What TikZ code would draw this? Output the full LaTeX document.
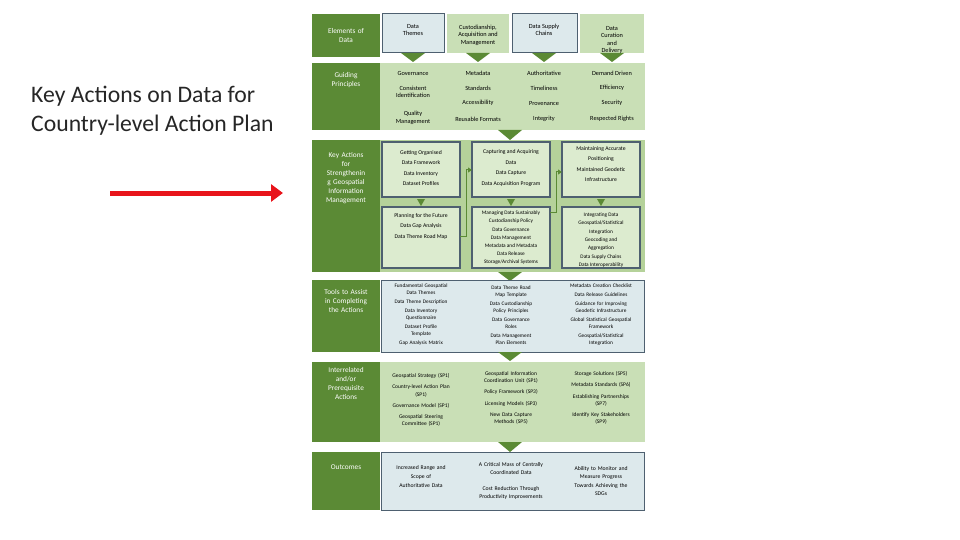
\documentclass[tikz,border=0pt]{standalone}
\usepackage{fontspec}
\setmainfont{Carlito}
\usetikzlibrary{arrows.meta,calc}
\begin{document}
\begin{tikzpicture}[x=1pt,y=-1pt,
 dark/.style={fill=dkg,draw=none},
 lbl/.style={text=white,font=\fontsize{7.3}{9}\selectfont,align=center,text width=60pt,inner sep=0pt},
 txt/.style={font=\fontsize{6.3}{7.6}\selectfont,align=center,inner sep=0pt},
 abox/.style={draw=bdr,line width=1.5pt,fill=boxf},
 tri/.style={fill=dkg,draw=none},
 conn/.style={draw=dkg,line width=1pt}]
\definecolor{dkg}{HTML}{5B8A35}
\definecolor{lg}{HTML}{C9DFB6}
\definecolor{mg}{HTML}{B5D29A}
\definecolor{bdr}{HTML}{4E6070}
\definecolor{boxf}{HTML}{DCEBCF}
\definecolor{bluef}{HTML}{DDE9EC}
\definecolor{redarr}{HTML}{E8141B}
\useasboundingbox (0,0) rectangle (960,540);
% title
\node[align=left,anchor=west,font=\fontsize{23.7}{29}\selectfont,text=black!85,inner sep=0pt] (title) at (31,111) {Key Actions on Data for\\Country-level Action Plan};
\coordinate (as) at (110,193); \coordinate (ae) at (283,193);
\draw[redarr,line width=5pt,-{Triangle[length=12pt,width=17pt]}] (as) -- (ae);
% row 1
\fill[dark] (312,14) rectangle (380,57);
\node[lbl] (l1) at (346,35) {Elements of\\Data};
\draw[bdr,fill=bluef,line width=1pt] (382,14) rectangle (444,53);
\fill[lg] (447,14) rectangle (509,53);
\draw[bdr,fill=bluef,line width=1pt] (512,14) rectangle (577,53);
\fill[lg] (580,14) rectangle (644,53);
\node[txt] (c1) at (413,30) {Data\\Themes};
\node[txt] (c2) at (478,35) {Custodianship,\\Acquisition and\\Management};
\node[txt] (c3) at (544,30) {Data Supply\\Chains};
\node[txt] (c4) at (612,40) {Data\\Curation\\and\\Delivery};
\foreach \x in {413,478,544,612} \fill[tri] (\x-12,53) -- (\x+12,53) -- (\x,62) -- cycle;
% row 2
\fill[dark] (312,63) rectangle (380,130);
\node[lbl] (l2) at (346,80) {Guiding\\Principles};
\fill[lg] (380,63) rectangle (645,130);
\foreach \t/\x/\y in {Governance/413/73, {Consistent\\Identification}/413/92, {Quality\\Management}/413/118,
 Metadata/478/73, Standards/478/88, Accessibility/478/103, {Reusable Formats}/478/119,
 Authoritative/544/73, Timeliness/544/88, Provenance/544/104, Integrity/544/119,
 {Demand Driven}/612/73, Efficiency/612/88, Security/612/103, {Respected Rights}/612/119}
 \node[txt] at (\x,\y) {\t};
\fill[tri] (498,130) -- (522,130) -- (510,140) -- cycle;
% row 3
\fill[dark] (312,140) rectangle (380,272);
\node[lbl] (l3) at (346,178) {Key Actions\\for\\Strengthenin\\g Geospatial\\Information\\Management};
\fill[mg] (380,140) rectangle (645,272);
\draw[abox] (382,142) rectangle (460,197); \draw[abox] (472,142) rectangle (550,197); \draw[abox] (562,142) rectangle (640,197);
\draw[abox] (382,207) rectangle (460,268); \draw[abox] (472,207) rectangle (550,268); \draw[abox] (562,207) rectangle (640,268);
\node[txt,font=\fontsize{5.7}{10.5}\selectfont] (k1) at (421,168) {Getting Organised\\Data Framework\\Data Inventory\\Dataset Profiles};
\node[txt,font=\fontsize{5.7}{10.5}\selectfont] (k2) at (511,168) {Capturing and Acquiring\\Data\\Data Capture\\Data Acquisition Program};
\node[txt,font=\fontsize{5.7}{10.5}\selectfont] (k3) at (601,164) {Maintaining Accurate\\Positioning\\Maintained Geodetic\\Infrastructure};
\node[txt,font=\fontsize{5.7}{10.5}\selectfont] (k4) at (421,226) {Planning for the Future\\Data Gap Analysis\\Data Theme Road Map};
\node[txt,font=\fontsize{5.3}{8.2}\selectfont] (k5) at (511,238) {Managing Data Sustainably\\Custodianship Policy\\Data Governance\\Data Management\\Metadata and Metadata\\Data Release\\Storage/Archival Systems};
\node[txt,font=\fontsize{5.3}{8.4}\selectfont] (k6) at (601,240) {Integrating Data\\Geospatial/Statistical\\Integration\\Geocoding and\\Aggregation\\Data Supply Chains\\Data Interoperability};
\coordinate (b1) at (421,197); \coordinate (t4) at (421,207);
\coordinate (b2) at (511,197); \coordinate (t5) at (511,207);
\coordinate (b3) at (601,197); \coordinate (t6) at (601,207);
\foreach \a/\b in {b1/t4,b2/t5,b3/t6} \fill[tri] ($(\a)+(-4,2)$) -- ($(\a)+(4,2)$) -- ($(\b)+(0,-1)$) -- cycle;
\coordinate (r4) at (460,236); \coordinate (l2b) at (472,170);
\draw[conn,-{Triangle[length=4pt,width=5pt]}] (r4) -| (466,170) -- (l2b);
\coordinate (r5) at (550,212); \coordinate (l3b) at (562,172);
\draw[conn,-{Triangle[length=4pt,width=5pt]}] (r5) -| (556,172) -- (l3b);
\fill[tri] (498,272) -- (522,272) -- (510,281) -- cycle;
% row 4
\fill[dark] (312,280) rectangle (380,352);
\node[lbl] (l4) at (346,301) {Tools to Assist\\in Completing\\the Actions};
\draw[bdr,fill=bluef,line width=1pt] (381,280) rectangle (644,352);
\node[txt,font=\fontsize{5.3}{7}\selectfont,text width=80pt] (t1) at (421,315) {Fundamental Geospatial\\Data Themes\\[2pt]Data Theme Description\\[2pt]Data Inventory\\Questionnaire\\[2pt]Dataset Profile\\Template\\[2pt]Gap Analysis Matrix};
\node[txt,font=\fontsize{5.3}{7}\selectfont,text width=80pt] (t2) at (511,315) {Data Theme Road\\Map Template\\[2pt]Data Custodianship\\Policy Principles\\[2pt]Data Governance\\Roles\\[2pt]Data Management\\Plan Elements};
\node[txt,font=\fontsize{5.3}{7}\selectfont,text width=90pt] (t3) at (601,315) {Metadata Creation Checklist\\[2pt]Data Release Guidelines\\[2pt]Guidance for Improving\\Geodetic Infrastructure\\[2pt]Global Statistical Geospatial\\Framework\\[2pt]Geospatial/Statistical\\Integration};
\fill[tri] (498,352) -- (522,352) -- (510,361) -- cycle;
% row 5
\fill[dark] (312,362) rectangle (380,442);
\node[lbl] (l5) at (346,383) {Interrelated\\and/or\\Prerequisite\\Actions};
\fill[lg] (380,362) rectangle (645,442);
\node[txt,font=\fontsize{5.5}{7.2}\selectfont,text width=80pt] (p1) at (421,400) {Geospatial Strategy (SP1)\\[4pt]Country-level Action Plan\\(SP1)\\[4pt]Governance Model (SP1)\\[4pt]Geospatial Steering\\Committee (SP1)};
\node[txt,font=\fontsize{5.5}{7.2}\selectfont,text width=80pt] (p2) at (511,398) {Geospatial Information\\Coordination Unit (SP1)\\[4pt]Policy Framework (SP3)\\[4pt]Licensing Models (SP3)\\[4pt]New Data Capture\\Methods (SP5)};
\node[txt,font=\fontsize{5.5}{7.2}\selectfont,text width=90pt] (p3) at (601,398) {Storage Solutions (SP5)\\[4pt]Metadata Standards (SP6)\\[4pt]Establishing Partnerships\\(SP7)\\[4pt]Identify Key Stakeholders\\(SP9)};
\fill[tri] (498,442) -- (522,442) -- (510,452) -- cycle;
% row 6
\fill[dark] (312,452) rectangle (380,510);
\node[lbl] (l6) at (346,467) {Outcomes};
\draw[bdr,fill=bluef,line width=1pt] (381,452) rectangle (644,510);
\node[txt,font=\fontsize{5.7}{9}\selectfont,text width=80pt] (o1) at (421,477) {Increased Range and\\Scope of\\Authoritative Data};
\node[txt,font=\fontsize{5.7}{8}\selectfont,text width=90pt] (o2) at (511,481) {A Critical Mass of Centrally\\Coordinated Data\\[8pt]Cost Reduction Through\\Productivity Improvements};
\node[txt,font=\fontsize{5.7}{8.5}\selectfont,text width=80pt] (o3) at (601,481) {Ability to Monitor and\\Measure Progress\\Towards Achieving the\\SDGs};
\end{tikzpicture}
\end{document}
